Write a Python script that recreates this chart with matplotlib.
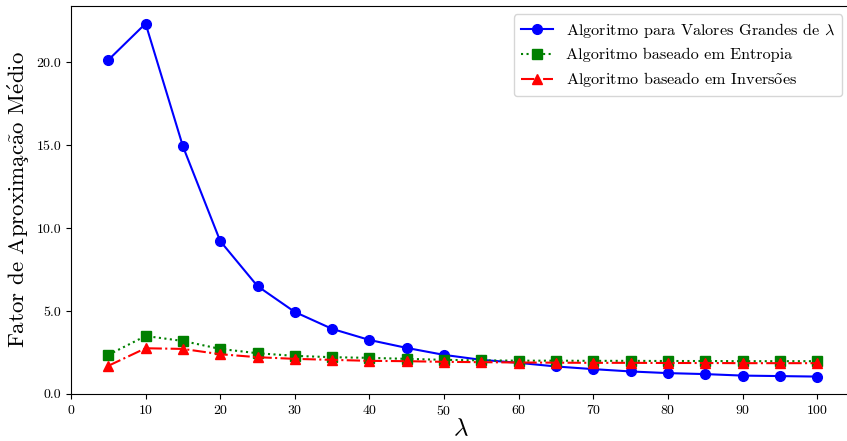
import matplotlib
matplotlib.use("Agg")
import matplotlib.pyplot as plt

plt.rcParams['font.family'] = ['cmr10', 'DejaVu Serif']
plt.rcParams['mathtext.fontset'] = 'cm'
plt.rcParams['axes.formatter.use_mathtext'] = True

lambdas = [5, 10, 15, 20, 25, 30, 35, 40, 45, 50, 55, 60, 65, 70, 75, 80, 85, 90, 95, 100]
grandes = [20.15, 22.35, 14.94, 9.22, 6.5, 4.94, 3.92, 3.25, 2.77, 2.35, 2.05, 1.87,
           1.65, 1.49, 1.35, 1.25, 1.19, 1.1, 1.07, 1.04]
entropia = [2.35, 3.49, 3.19, 2.71, 2.45, 2.29, 2.21, 2.17, 2.11, 2.05, 2.02, 2.0,
            2.0, 1.99, 1.99, 1.98, 1.98, 1.97, 1.97, 1.97]
inversoes = [1.69, 2.75, 2.71, 2.39, 2.21, 2.11, 2.05, 1.99, 1.97, 1.93, 1.91, 1.89,
             1.88, 1.87, 1.87, 1.86, 1.86, 1.85, 1.85, 1.85]

# accents drawn with mathtext so they stay in Computer Modern
ylabel = r'Fator de Aproxima$\mathrm{\c{c}\tilde{a}}$o M$\mathrm{\acute{e}}$dio'
label_inv = r'Algoritmo baseado em Invers$\mathrm{\tilde{o}}$es'

fig, ax = plt.subplots(figsize=(8.47, 4.41), dpi=100)
ax.plot(lambdas, grandes, 'b-o', markersize=7, linewidth=1.5,
        label=r'Algoritmo para Valores Grandes de $\lambda$')
ax.plot(lambdas, entropia, 'g:s', markersize=7, linewidth=1.5,
        label='Algoritmo baseado em Entropia')
ax.plot(lambdas, inversoes, 'r-.^', markersize=7, linewidth=1.5,
        label=label_inv)

ax.set_xlim(0, 104.4)
ax.set_ylim(0, 23.4)
ax.set_xticks(range(0, 101, 10))
ax.set_yticks([0, 5, 10, 15, 20])
ax.set_yticklabels(['0.0', '5.0', '10.0', '15.0', '20.0'])
ax.tick_params(labelsize=10)
ax.set_xlabel(r'$\lambda$', fontsize=18, labelpad=0)
ax.set_ylabel(ylabel, fontsize=16.5)
ax.legend(loc='upper right', fontsize=11.7)

fig.subplots_adjust(left=0.0838, right=1.0035, top=0.986, bottom=0.107)
fig.savefig('out.png')
